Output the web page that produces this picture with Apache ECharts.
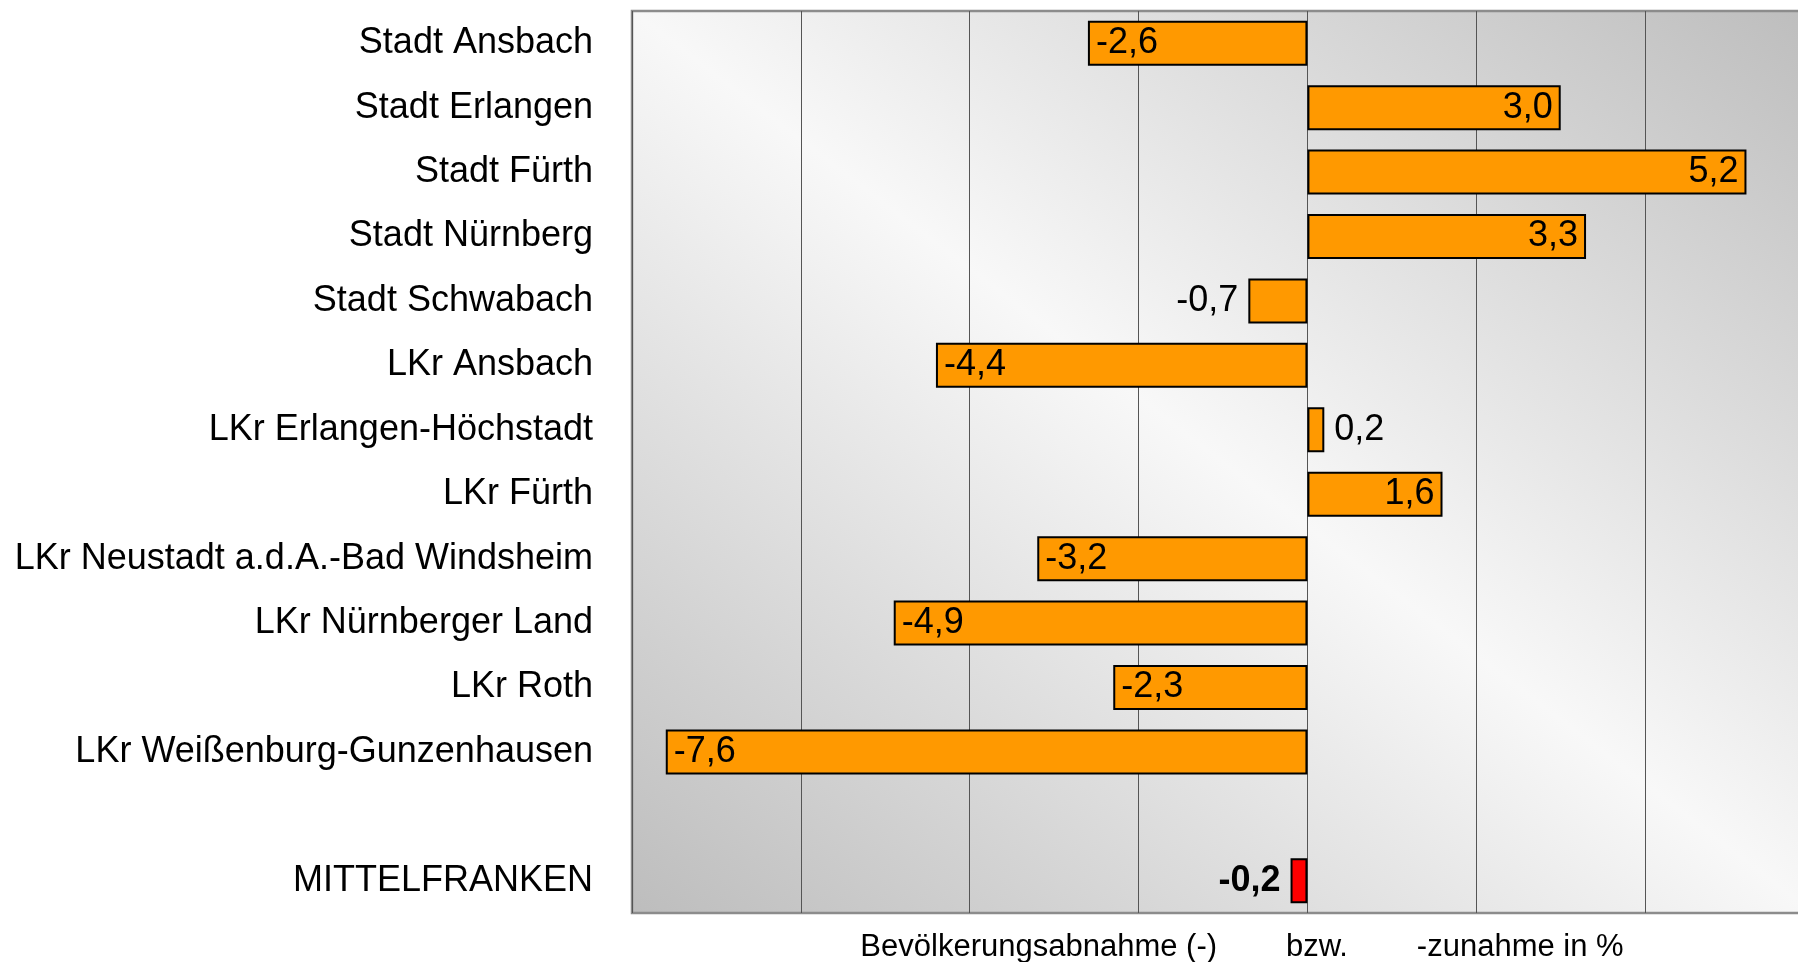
<!DOCTYPE html>
<html>
<head>
<meta charset="utf-8">
<script src="https://cdn.jsdelivr.net/npm/echarts@6/dist/echarts.min.js"></script>
<style>
  html, body { margin: 0; padding: 0; background: #ffffff; }
  #chart { width: 1798px; height: 962px; }
</style>
</head>
<body>
<div id="chart"></div>
<script>
// ---- data ----
const categories = [
  'Stadt Ansbach', 'Stadt Erlangen', 'Stadt Fürth', 'Stadt Nürnberg', 'Stadt Schwabach',
  'LKr Ansbach', 'LKr Erlangen-Höchstadt', 'LKr Fürth', 'LKr Neustadt a.d.A.-Bad Windsheim',
  'LKr Nürnberger Land', 'LKr Roth', 'LKr Weißenburg-Gunzenhausen', '', 'MITTELFRANKEN'
];
const values = [-2.6, 3.0, 5.2, 3.3, -0.7, -4.4, 0.2, 1.6, -3.2, -4.9, -2.3, -7.6, null, -0.2];
const totalCategory = 'MITTELFRANKEN';
const axisMin = -8;
const axisMax = 6;
const axisInterval = 2;
const axisTitle = 'Bevölkerungsabnahme (-)        bzw.        -zunahme in %';

// ---- layout ----
const G = { left: 632, top: 11, width: 1182, height: 902 };

// diagonal gradient: light along the top-left → bottom-right diagonal, dark towards the other corners
const cx = G.left + G.width / 2, cy = G.top + G.height / 2;
const diag = Math.hypot(G.width, G.height);
const reach = G.width * G.height / diag;
const ux = G.height / diag, uy = -G.width / diag;
const bgGradient = {
  type: 'linear', global: true,
  x: cx - ux * reach, y: cy - uy * reach,
  x2: cx + ux * reach, y2: cy + uy * reach,
  colorStops: [
    { offset: 0, color: '#bdbdbd' },
    { offset: 0.5, color: '#f8f8f8' },
    { offset: 1, color: '#bdbdbd' }
  ]
};

// ---- chart ----
const FONT = '"Liberation Sans", Arial, Helvetica, sans-serif';
const fmt = v => v.toFixed(1).replace('.', ',');

const seriesData = values.map((v, i) => {
  if (v === null) return '-';
  const isTotal = categories[i] === totalCategory;
  const small = Math.abs(v) < 1;
  let position;
  if (small) position = v < 0 ? 'left' : 'right';
  else position = v < 0 ? 'insideLeft' : 'insideRight';
  return {
    value: v,
    itemStyle: { color: isTotal ? '#ff0000' : '#ff9900' },
    label: {
      position: position,
      distance: small ? 10 : 8,
      fontWeight: isTotal ? 'bold' : 'normal'
    }
  };
});

const chart = echarts.init(document.getElementById('chart'), null, { renderer: 'canvas' });
chart.setOption({
  animation: false,
  backgroundColor: '#ffffff',
  grid: {
    left: G.left, top: G.top, width: G.width, height: G.height,
    outerBoundsMode: 'none',
    containLabel: false,
    show: true,
    borderColor: '#8c8c8c',
    borderWidth: 2.5,
    backgroundColor: bgGradient
  },
  xAxis: {
    type: 'value',
    min: axisMin, max: axisMax, interval: axisInterval,
    axisLine: { show: false },
    axisTick: { show: false },
    axisLabel: { show: false },
    splitLine: { show: true, lineStyle: { color: '#555555', width: 1 } },
    name: axisTitle,
    nameLocation: 'middle',
    nameGap: 19,
    nameTextStyle: {
      fontFamily: FONT, fontSize: 31, color: '#000000',
      padding: [0, 0, 0, 38]
    }
  },
  yAxis: {
    type: 'category',
    inverse: true,
    data: categories,
    axisLine: { show: false },
    axisTick: { show: false },
    splitLine: { show: false },
    axisLabel: {
      fontFamily: FONT, fontSize: 36, color: '#000000', margin: 39,
      padding: [5, 0, 0, 0]
    }
  },
  series: [{
    type: 'bar',
    data: seriesData,
    barWidth: 45,
    itemStyle: { borderColor: '#000000', borderWidth: 2 },
    label: {
      show: true,
      fontFamily: FONT,
      fontSize: 36,
      color: '#000000',
      padding: [5, 0, 0, 0],
      formatter: p => fmt(p.value)
    }
  }]
});
</script>
</body>
</html>
